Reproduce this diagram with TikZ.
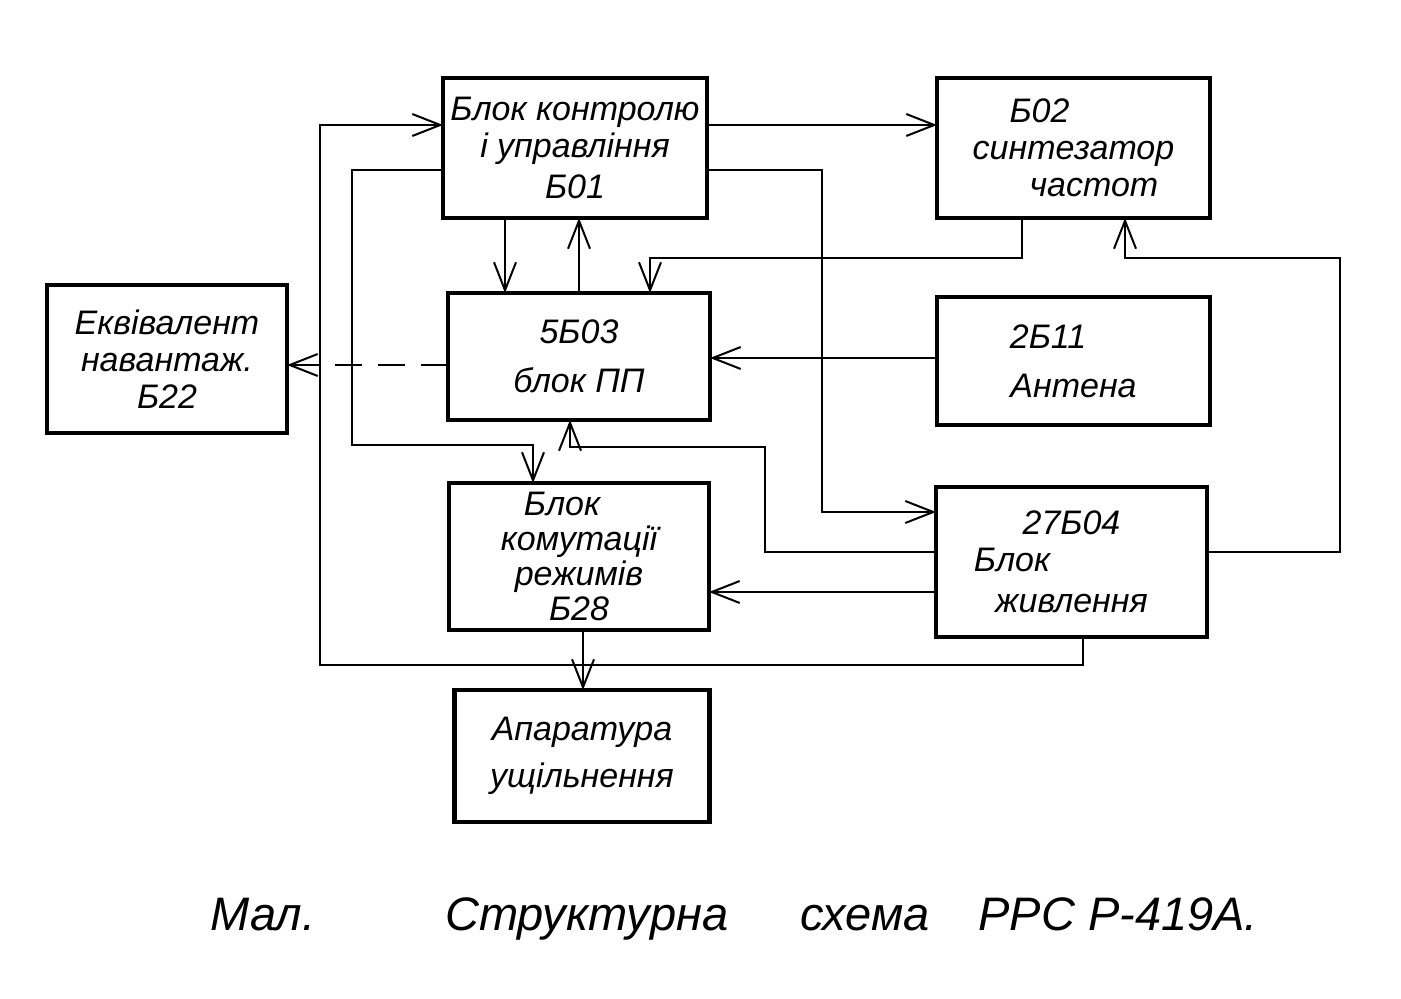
\documentclass[tikz,border=0pt]{standalone}
\usepackage{fontspec}
\setmainfont{Liberation Sans}
\usetikzlibrary{arrows.meta,positioning}

\begin{document}
\begin{tikzpicture}[
  x=0.5pt, y=-0.5pt,
  font=\fontsize{17}{18.5}\selectfont\itshape,
  box/.style={draw, line width=2.2pt, outer sep=0pt, inner sep=0pt, align=center},
  arr/.style={-{Straight Barb[length=14pt, width=11pt, line width=1pt]}, line width=1pt},
  captext/.style={font=\fontsize{23.5}{26}\selectfont\itshape, anchor=base west, inner sep=0pt}
]
  \useasboundingbox (0,0) rectangle (1401,999);
  % blocks
  \node[box, minimum width=132pt, minimum height=70pt] (b01) at (575,148)
    {Блок контролю\\і управління\\[2pt]Б01};
  \node[box, minimum width=136.5pt, minimum height=70pt, right=115pt of b01] (b02)
    {\hspace*{-2em}Б02\\синтезатор\\\hspace*{1.2em}частот};
  \node[box, minimum width=131pt, minimum height=63.5pt, below=37.5pt of b01, xshift=2pt] (b03)
    {5Б03\\[6pt]блок ПП};
  \node[box, minimum width=130pt, minimum height=73.5pt, below=31.5pt of b03] (b28)
    {\hspace*{-1em}Блок\\[-1pt]комутації\\[-1pt]режимів\\[-1pt]Б28};
  \node[box, minimum width=127.5pt, minimum height=66pt, below=30pt of b28, xshift=1.5pt] (bap)
    {Апаратура\\[5pt]ущільнення};
  \node[box, minimum width=136.5pt, minimum height=64pt, right=113.5pt of b03, yshift=-2.25pt] (b11)
    {\hspace*{-1.5em}2Б11\\[6pt]Антена};
  \node[box, minimum width=135.5pt, minimum height=75pt, right=113.5pt of b28, yshift=-2.75pt] (b04)
    {27Б04\\\hspace*{-3.5em}Блок\\[2pt]живлення};
  \node[box, minimum width=120pt, minimum height=74pt, left=80.5pt of b03, yshift=-1.25pt] (b22)
    {Еквівалент\\навантаж.\\Б22};
  % routing corners
  \coordinate (lbot) at (320,665);
  \coordinate (c2) at (352,445);
  \coordinate (c4) at (822,512);
  \coordinate (c7) at (650,258);
  \coordinate (c8) at (1340,258);
  \coordinate (c11) at (765,447);
  % connectors
  \draw[arr] ([xshift=5.75pt]b04.south) |- (lbot) |- ([yshift=11.5pt]b01.west);
  \draw[arr] ([yshift=-11pt]b01.west) -| (c2) -| ([xshift=-23pt]b28.north);
  \draw[arr] ([yshift=11.5pt]b01.east) -- ([yshift=11.5pt]b02.west);
  \draw[arr] ([yshift=-11pt]b01.east) -| (c4) -- (c4 -| b04.west);
  \draw[arr] ([xshift=-35pt]b01.south) -- ([xshift=-35pt]b01.south |- b03.north);
  \draw[arr] (b03.north) -- (b03.north |- b01.south);
  \draw[arr] ([xshift=-25.75pt]b02.south) |- (c7) -- (c7 |- b03.north);
  \draw[arr] ([yshift=5pt]b04.east) -| (c8) -| ([xshift=25.75pt]b02.south);
  \draw[arr] ([yshift=1.5pt]b11.west) -- ([yshift=1.5pt]b11.west -| b03.east);
  \draw[arr, dash pattern=on 13.5pt off 8pt] ([yshift=-4.25pt]b03.west) -- ([yshift=-4.25pt]b03.west -| b22.east);
  \draw[arr] ([yshift=5pt]b04.west) -| (c11) -| ([xshift=-4.5pt]b03.south);
  \draw[arr] ([yshift=-15pt]b04.west) -- ([yshift=-15pt]b04.west -| b28.east);
  \draw[arr] ([xshift=2pt]b28.south) -- ([xshift=2pt]b28.south |- bap.north);
  % caption
  \node[captext] (mal) at (210,930) {Мал.};
  \node[captext] (capa) at (445,930) {Структурна};
  \node[captext] (capb) at (800,930) {схема};
  \node[captext] (capc) at (978,930) {РРС Р-419А.};
\end{tikzpicture}
\end{document}
